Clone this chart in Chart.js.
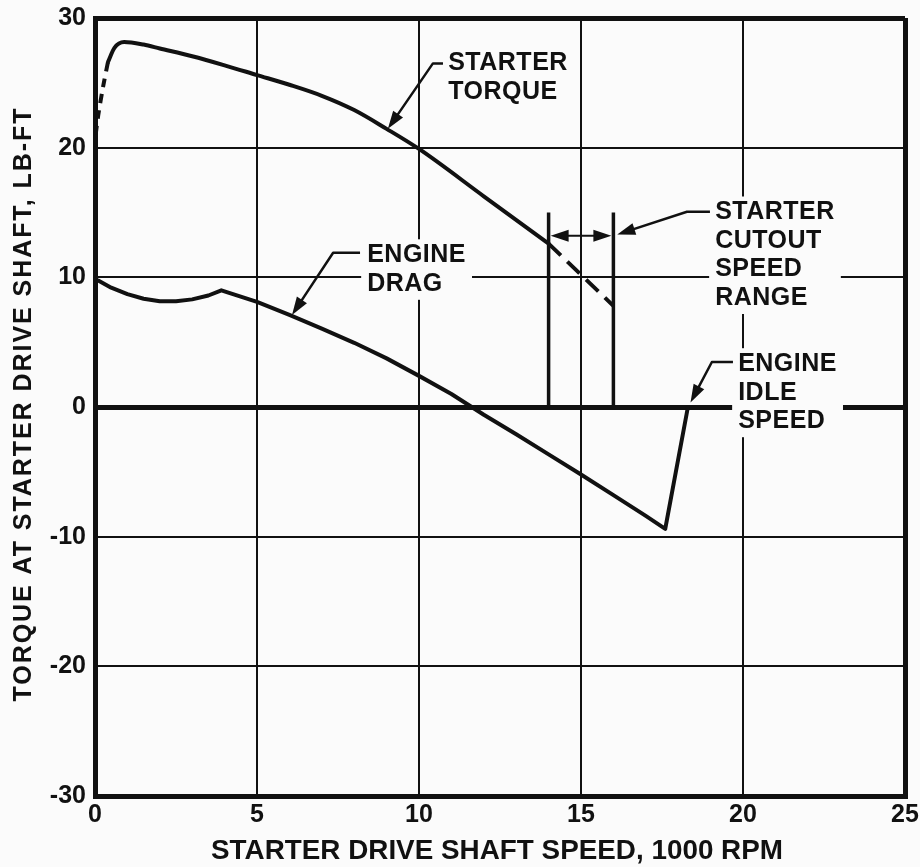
<!DOCTYPE html>
<html>
<head>
<meta charset="utf-8">
<script src="https://cdn.jsdelivr.net/npm/chart.js@4.4.0/dist/chart.umd.min.js"></script>
<style>
  body { margin: 0; background: #fbfbfb; }
  #wrap { width: 920px; height: 867px; }
</style>
</head>
<body>
<div id="wrap"><canvas id="torqueChart" width="920" height="867"></canvas></div>
<script>
// speeds in 1000 rpm, torque in lb-ft
const starterSpeed = [0.4, 0.6, 0.9, 1.5, 2, 3, 4, 5, 6, 7, 8, 9, 10, 12, 14];
const starterTorque = [26.6, 27.7, 28.15, 27.95, 27.65, 27.05, 26.35, 25.6, 24.85, 24.0, 22.9, 21.45, 19.9, 16.25, 12.6];

// dashed bits of the starter curve
const spinupSpeed = [0.02, 0.1, 0.25, 0.4];
const spinupTorque = [21.0, 22.5, 24.7, 26.6];
const overrunSpeed = [14, 16];
const overrunTorque = [12.6, 7.8];

const dragSpeed = [0.1, 0.5, 1, 1.5, 2, 2.5, 3, 3.5, 3.9, 5, 6, 7, 8, 9, 10, 11, 12, 13, 14, 15, 16, 17, 17.6, 18.3];
const dragTorque = [9.75, 9.2, 8.7, 8.35, 8.15, 8.15, 8.3, 8.6, 9.0, 8.1, 7.1, 6.05, 4.95, 3.75, 2.4, 1.0, -0.6, -2.1, -3.65, -5.2, -6.8, -8.4, -9.4, 0];

// cutout speed range
const cutoutSpeeds = [14, 16];
const cutoutTop = 15;
const cutoutArrowAt = 13.2;

const xTicks = [0, 5, 10, 15, 20, 25];
const yTicks = [-30, -20, -10, 0, 10, 20, 30];

const INK = "#111";
const BG = "#fbfbfb";
const FONT = '"Liberation Sans", Arial, sans-serif';

// callout texts and their leader lines (data coords)
const notes = [
  { lines: ["STARTER", "TORQUE"], x: 10.9, y: 26.5 },
  { lines: ["ENGINE", "DRAG"], x: 8.4, y: 11.7 },
  { lines: ["STARTER", "CUTOUT", "SPEED", "RANGE"], x: 19.14, y: 15.0 },
  { lines: ["ENGINE", "IDLE", "SPEED"], x: 19.85, y: 3.3 },
];
const leaders = [
  [[10.74, 26.5], [10.43, 26.5], [9.04, 21.45]],
  [[8.18, 11.9], [7.35, 11.9], [6.08, 7.1]],
  [[18.98, 15.06], [18.27, 15.06], [16.12, 13.3]],
  [[19.69, 3.47], [19.04, 3.47], [18.38, 0.35]],
];

function toPoints(xs, ys) {
  return xs.map((x, i) => ({ x: x, y: ys[i] }));
}

function line(data, opts) {
  return Object.assign({
    data: data,
    showLine: true,
    borderColor: INK,
    borderWidth: 4,
    pointRadius: 0,
    borderCapStyle: "round",
    borderJoinStyle: "round",
    tension: 0,
  }, opts);
}

function arrowHead(ctx, fx, fy, tx, ty, len, half) {
  const a = Math.atan2(ty - fy, tx - fx);
  ctx.beginPath();
  ctx.moveTo(tx, ty);
  ctx.lineTo(tx - len * Math.cos(a) + half * Math.sin(a), ty - len * Math.sin(a) - half * Math.cos(a));
  ctx.lineTo(tx - len * Math.cos(a) - half * Math.sin(a), ty - len * Math.sin(a) + half * Math.cos(a));
  ctx.closePath();
  ctx.fill();
}

const lineStep = 28.5;

const calloutPlugin = {
  id: "callouts",
  // white boxes behind the texts cut the grid lines
  beforeDatasetsDraw(chart) {
    const ctx = chart.ctx;
    const xs = chart.scales.x, ys = chart.scales.y;
    ctx.save();
    ctx.font = "bold 25px " + FONT;
    ctx.letterSpacing = "0.5px";
    ctx.fillStyle = BG;
    notes.forEach((n) => {
      const w = Math.max(...n.lines.map((l) => ctx.measureText(l).width));
      const left = xs.getPixelForValue(n.x);
      const top = ys.getPixelForValue(n.y);
      ctx.fillRect(left - 6, top - 16, w + 12, (n.lines.length - 1) * lineStep + 32);
    });
    ctx.restore();
  },
  afterDatasetsDraw(chart) {
    const ctx = chart.ctx;
    const xs = chart.scales.x, ys = chart.scales.y;
    ctx.save();
    ctx.fillStyle = INK;
    ctx.strokeStyle = INK;

    // texts
    ctx.font = "bold 25px " + FONT;
    ctx.letterSpacing = "0.5px";
    ctx.textAlign = "left";
    ctx.textBaseline = "middle";
    notes.forEach((n) => {
      const left = xs.getPixelForValue(n.x);
      const top = ys.getPixelForValue(n.y);
      n.lines.forEach((l, i) => ctx.fillText(l, left, top + i * lineStep));
    });

    // leaders with arrow heads
    ctx.lineWidth = 2.5;
    ctx.lineJoin = "round";
    leaders.forEach((pts) => {
      const p = pts.map((q) => [xs.getPixelForValue(q[0]), ys.getPixelForValue(q[1])]);
      ctx.beginPath();
      ctx.moveTo(p[0][0], p[0][1]);
      for (let i = 1; i < p.length - 1; i++) ctx.lineTo(p[i][0], p[i][1]);
      const a = p[p.length - 2], b = p[p.length - 1];
      const ang = Math.atan2(b[1] - a[1], b[0] - a[0]);
      ctx.lineTo(b[0] - 10 * Math.cos(ang), b[1] - 10 * Math.sin(ang));
      ctx.stroke();
      arrowHead(ctx, a[0], a[1], b[0], b[1], 18, 6);
    });

    // double arrow between the cutout bounds
    const x1 = xs.getPixelForValue(cutoutSpeeds[0]) + 2;
    const x2 = xs.getPixelForValue(cutoutSpeeds[1]) - 2;
    const ya = ys.getPixelForValue(cutoutArrowAt);
    ctx.lineWidth = 2;
    ctx.beginPath();
    ctx.moveTo(x1 + 10, ya);
    ctx.lineTo(x2 - 10, ya);
    ctx.stroke();
    arrowHead(ctx, x2, ya, x1, ya, 18, 6);
    arrowHead(ctx, x1, ya, x2, ya, 18, 6);
    ctx.restore();
  },
  afterDraw(chart) {
    const ctx = chart.ctx;
    ctx.save();
    ctx.fillStyle = INK;
    ctx.textAlign = "center";
    ctx.textBaseline = "middle";

    // y title, spaced out
    const yTitle = "TORQUE AT STARTER DRIVE SHAFT, LB-FT";
    ctx.font = "bold 25px " + FONT;
    ctx.letterSpacing = "0px";
    const w0 = ctx.measureText(yTitle).width;
    ctx.letterSpacing = Math.max(0, (593 - w0) / (yTitle.length - 1)) + "px";
    ctx.translate(24, 404);
    ctx.rotate(-Math.PI / 2);
    ctx.fillText(yTitle, 0, 0);
    ctx.restore();

    // x title, condensed lettering
    ctx.save();
    ctx.fillStyle = INK;
    ctx.textAlign = "center";
    ctx.textBaseline = "middle";
    const xTitle = "STARTER DRIVE SHAFT SPEED, 1000 RPM";
    ctx.font = "bold 28px " + FONT;
    const w1 = ctx.measureText(xTitle).width;
    ctx.translate(497, 851);
    ctx.scale(572 / w1, 1);
    ctx.fillText(xTitle, 0, 0);
    ctx.restore();
  },
};

function gridWidth(ctx, edges) {
  const v = ctx.tick && ctx.tick.value;
  if (v === 0 || edges.includes(v)) return 5;
  return 2;
}

const datasets = [
  line(toPoints(starterSpeed, starterTorque), { label: "Starter torque", cubicInterpolationMode: "monotone" }),
  line(toPoints(spinupSpeed, spinupTorque), { label: "Starter torque (spin-up)", borderDash: [9, 7], borderCapStyle: "butt", tension: 0.3 }),
  line(toPoints(overrunSpeed, overrunTorque), { label: "Starter torque (past cutout)", borderDash: [17, 9], borderCapStyle: "butt" }),
  line(toPoints(dragSpeed, dragTorque), { label: "Engine drag" }),
  line(toPoints([cutoutSpeeds[0], cutoutSpeeds[0]], [0, cutoutTop]), { label: "Cutout low", borderWidth: 3.5, borderCapStyle: "butt" }),
  line(toPoints([cutoutSpeeds[1], cutoutSpeeds[1]], [0, cutoutTop]), { label: "Cutout high", borderWidth: 3.5, borderCapStyle: "butt" }),
];

new Chart(document.getElementById("torqueChart"), {
  type: "scatter",
  data: { datasets: datasets },
  options: {
    responsive: false,
    animation: false,
    events: [],
    layout: { padding: { top: 18, right: 15, left: 0, bottom: 0 } },
    plugins: { legend: { display: false }, tooltip: { enabled: false } },
    scales: {
      x: {
        type: "linear",
        min: 0,
        max: 25,
        afterBuildTicks: (s) => { s.ticks = xTicks.map((v) => ({ value: v })); },
        afterFit: (s) => { s.height = 71; s.paddingLeft = 0; s.paddingRight = 0; },
        grid: {
          color: INK,
          lineWidth: (ctx) => gridWidth(ctx, [0, 25]),
          drawTicks: false,
        },
        border: { display: true, color: INK, width: 5 },
        ticks: {
          color: INK,
          padding: 4,
          maxRotation: 0,
          font: { family: FONT, size: 25, weight: "bold" },
        },
      },
      y: {
        type: "linear",
        min: -30,
        max: 30,
        afterBuildTicks: (s) => { s.ticks = yTicks.map((v) => ({ value: v })); },
        afterFit: (s) => { s.width = 95; s.paddingTop = 0; s.paddingBottom = 0; },
        grid: {
          color: INK,
          lineWidth: (ctx) => gridWidth(ctx, [-30, 30]),
          drawTicks: false,
        },
        border: { display: true, color: INK, width: 5 },
        ticks: {
          color: INK,
          padding: 9,
          font: { family: FONT, size: 25, weight: "bold" },
        },
      },
    },
  },
  plugins: [calloutPlugin],
});
</script>
</body>
</html>
